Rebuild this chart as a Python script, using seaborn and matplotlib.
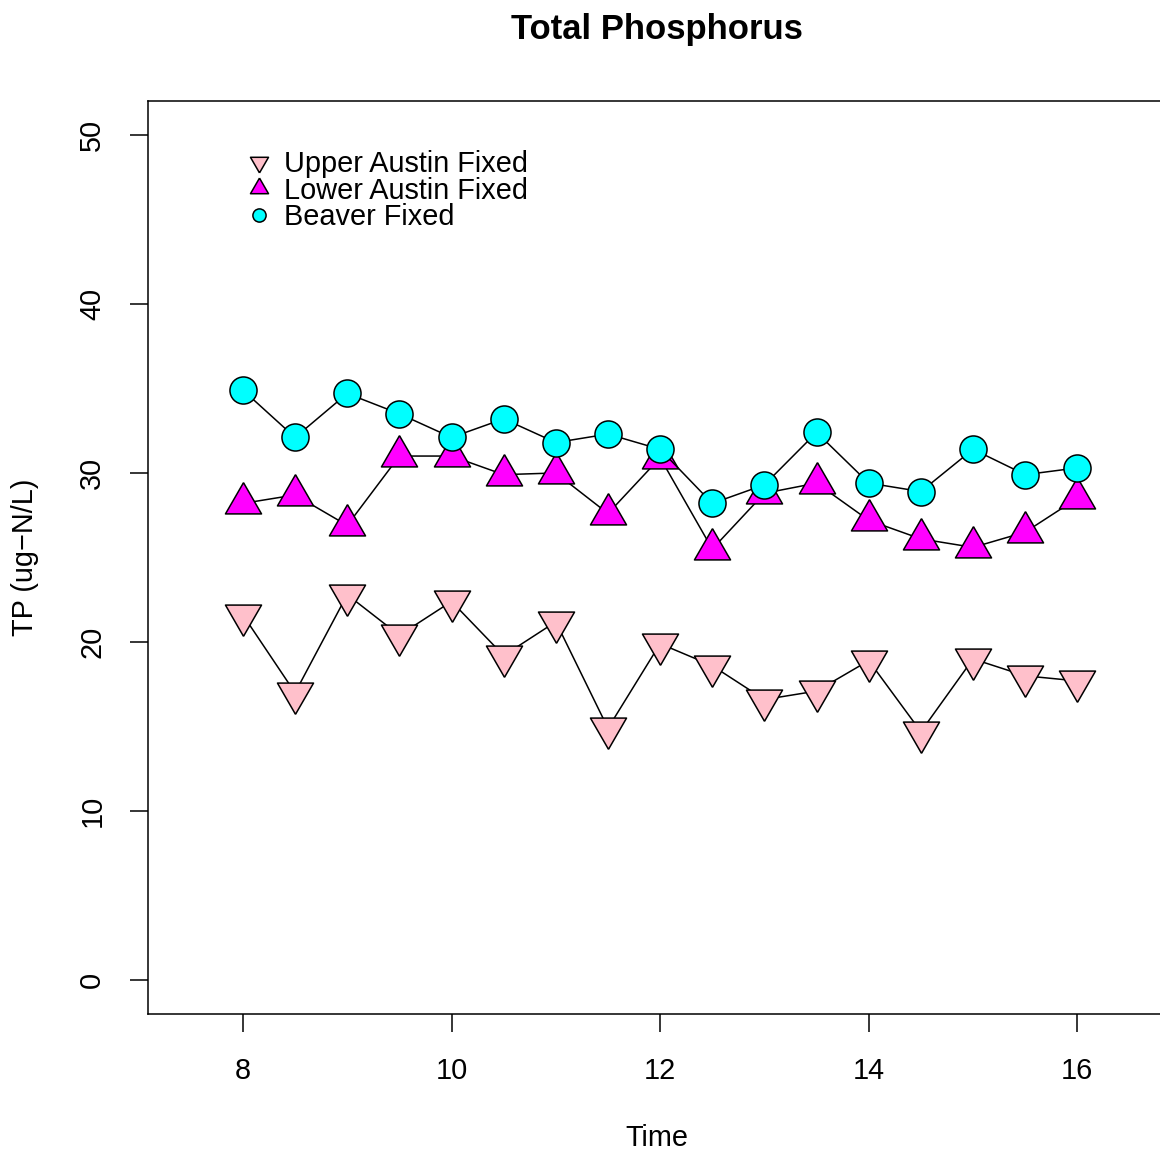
import matplotlib.pyplot as plt
from matplotlib.lines import Line2D
import numpy as np
import pandas as pd
import seaborn as sns

sns.set_theme(style="white")
plt.rcParams["font.family"] = ["Liberation Sans", "DejaVu Sans"]
plt.rcParams["text.color"] = "black"
plt.rcParams["axes.labelcolor"] = "black"

time = [8, 8.5, 9, 9.5, 10, 10.5, 11, 11.5, 12, 12.5, 13, 13.5, 14, 14.5, 15, 15.5, 16]
upper_austin = [21.6, 17.0, 22.8, 20.4, 22.4, 19.2, 21.2, 14.9, 19.9, 18.6, 16.6, 17.1, 18.9, 14.7, 19.0, 18.0, 17.7]
lower_austin = [28.2, 28.7, 26.9, 31.0, 31.0, 29.9, 30.0, 27.6, 30.9, 25.5, 28.8, 29.4, 27.2, 26.1, 25.6, 26.5, 28.5]
beaver = [34.9, 32.1, 34.7, 33.5, 32.1, 33.2, 31.8, 32.3, 31.4, 28.2, 29.3, 32.4, 29.4, 28.9, 31.4, 29.9, 30.3]
labels = ["Upper Austin Fixed", "Lower Austin Fixed", "Beaver Fixed"]

# R-style triangles: point sits at the centroid
tri_up = [(0, 1), (-0.866, -0.5), (0.866, -0.5), (0, 1)]
tri_down = [(0, -1), (-0.866, 0.5), (0.866, 0.5), (0, -1)]

series = [
    (upper_austin, tri_down, "pink", 30),
    (lower_austin, tri_up, "magenta", 30),
    (beaver, "o", "cyan", 19.5),
]

FS = 20.8

fig = plt.figure(figsize=(11.6, 11.55), dpi=100)
ax = fig.add_axes([148 / 1160, 0.12208, (1166 - 148) / 1160, 0.79048])

for i, (vals, mk, col, ms) in enumerate(series):
    df = pd.DataFrame({"Time": time, "TP": vals})
    sns.lineplot(data=df, x="Time", y="TP", ax=ax, color="black", linewidth=1.1,
                 marker=mk, markersize=ms, markerfacecolor=col,
                 markeredgecolor="black", markeredgewidth=1.1, zorder=3 + i)

ax.set_xlim(7.09, 16.85)
ax.set_ylim(-2.0, 52.0)
ax.set_xticks([8, 10, 12, 14, 16])
ax.set_yticks([0, 10, 20, 30, 40, 50])
ax.set_xlabel("")
ax.set_ylabel("")
ax.tick_params(axis="both", direction="out", length=13, width=1.1, color="black",
               labelsize=FS, labelcolor="black", left=True, bottom=True)
ax.tick_params(axis="x", pad=18)
ax.tick_params(axis="y", pad=17)
for lab in ax.get_yticklabels():
    lab.set_rotation(90)
    lab.set_va("center")
for sp in ax.spines.values():
    sp.set_visible(True)
    sp.set_color("black")
    sp.set_linewidth(1.1)

xc = (148 + 1166) / 2 / 1160
fig.text(xc, 1 - 30 / 1155, "Total Phosphorus", ha="center", va="center",
         fontsize=FS * 1.2, fontweight="bold")
fig.text(xc, 1 - 1138 / 1155, "Time", ha="center", va="center", fontsize=FS)
fig.text(25 / 1160, 1 - 557 / 1155, "TP (ug\u2212N/L)", ha="center", va="center",
         rotation=90, fontsize=FS)

handles = [
    Line2D([], [], linestyle="none", marker=tri_down, markersize=15,
           markerfacecolor="pink", markeredgecolor="black", markeredgewidth=1.1),
    Line2D([], [], linestyle="none", marker=tri_up, markersize=15,
           markerfacecolor="magenta", markeredgecolor="black", markeredgewidth=1.1),
    Line2D([], [], linestyle="none", marker="o", markersize=9.5,
           markerfacecolor="cyan", markeredgecolor="black", markeredgewidth=1.1),
]
ax.legend(handles, labels, loc="upper left", bbox_to_anchor=(244.5 / 1160, 1 - 150 / 1155),
          bbox_transform=fig.transFigure, frameon=False, fontsize=FS,
          handlelength=1.0, handletextpad=0.365, labelspacing=-0.05, borderpad=0,
          borderaxespad=0, labelcolor="black")

fig.savefig("out.png", dpi=100)
